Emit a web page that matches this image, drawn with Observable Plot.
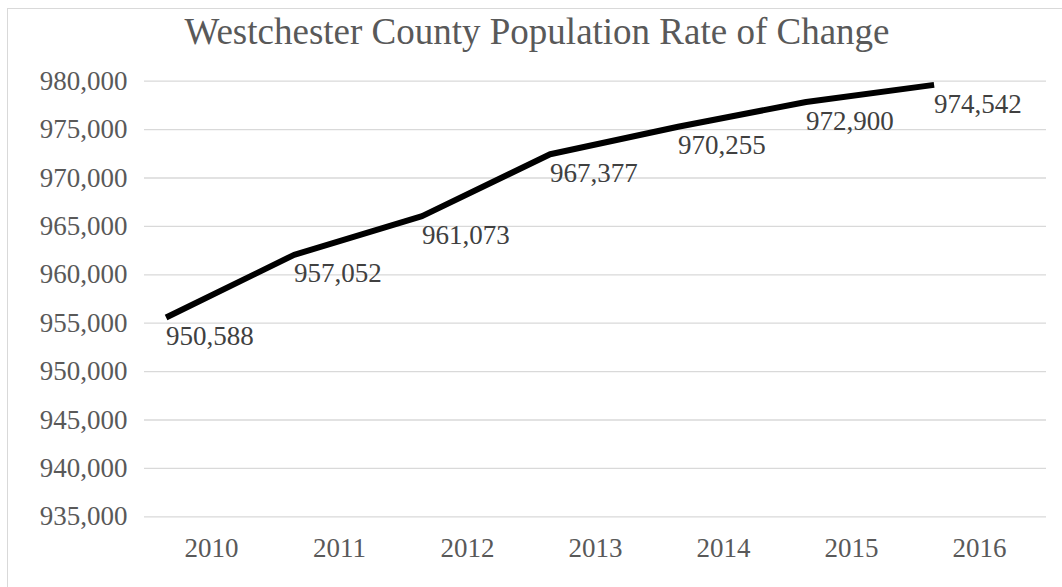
<!DOCTYPE html>
<html>
<head>
<meta charset="utf-8">
<script src="https://cdn.jsdelivr.net/npm/d3@7"></script>
<script src="https://cdn.jsdelivr.net/npm/@observablehq/plot@0.6"></script>
<style>
  html, body { margin: 0; padding: 0; background: #fff; overflow: hidden; }
  #wrap { position: relative; width: 1062px; height: 587px; }
  #border { position: absolute; left: 7px; top: 8px; width: 1100px; height: 700px;
            border: 1px solid #d9d9d9; box-sizing: border-box; pointer-events: none; }
</style>
</head>
<body>
<div id="wrap"><div id="border"></div></div>
<script>
// Data
const years = ["2010", "2011", "2012", "2013", "2014", "2015", "2016"];
const populationLabels = [950588, 957052, 961073, 967377, 970255, 972900, 974542];
// Vertical positions of the drawn line
const plottedLine = [955590, 962060, 966060, 972450, 975300, 977850, 979620];
const yTicks = [935000, 940000, 945000, 950000, 955000, 960000, 965000, 970000, 975000, 980000];
const titleText = "Westchester County Population Rate of Change";

const rows = years.map((year, i) => ({year, label: populationLabels[i], plotted: plottedLine[i]}));
const fmt = d3.format(",");

const chart = Plot.plot({
  width: 1062,
  height: 587,
  marginLeft: 144,
  marginRight: 16,
  marginTop: 80.7,
  marginBottom: 70.7,
  style: {
    fontFamily: "'Liberation Serif', 'Times New Roman', serif",
    fontSize: "27px",
    color: "#595959",
    background: "transparent"
  },
  x: {type: "point", domain: years, padding: 0.5, label: null},
  y: {domain: [935000, 980000], label: null},
  marks: [
    Plot.gridY(yTicks, {stroke: "#d9d9d9", strokeOpacity: 1, strokeWidth: 1.3}),
    Plot.axisY(yTicks, {tickSize: 0, tickPadding: 17, tickFormat: fmt, fontSize: 27, label: null}),
    Plot.axisX({tickSize: 0, tickPadding: 21, fontSize: 27, label: null}),
    Plot.line(rows, {x: "year", y: "plotted", stroke: "#000", strokeWidth: 6, dx: -45.4,
                     strokeLinejoin: "round", strokeLinecap: "butt"}),
    Plot.text(rows, {x: "year", y: "plotted", text: d => fmt(d.label), textAnchor: "start",
                     dx: -45.4, dy: 19, fill: "#404040", fontSize: 27}),
    Plot.text([titleText], {frameAnchor: "top", text: d => d, dx: -58.5, dy: -63.5,
                            fontSize: 37, fill: "#595959"})
  ]
});
document.getElementById("wrap").prepend(chart);
</script>
</body>
</html>
